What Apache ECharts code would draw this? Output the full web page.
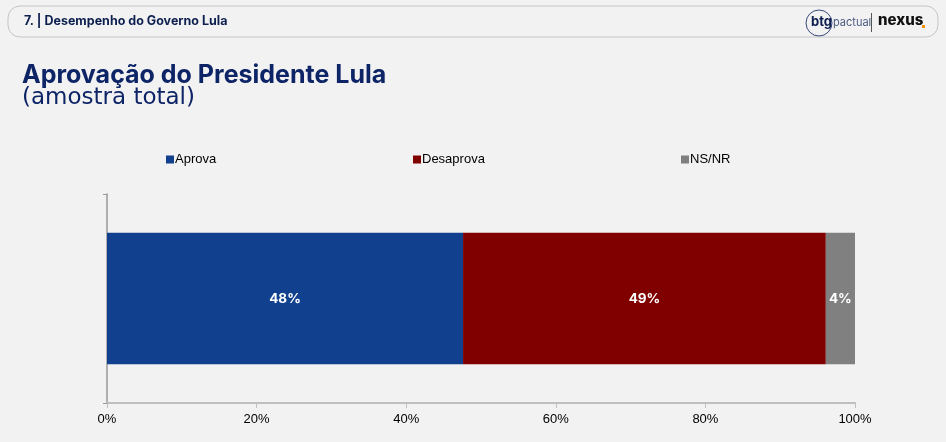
<!DOCTYPE html>
<html>
<head>
<meta charset="utf-8">
<script src="https://cdn.jsdelivr.net/npm/echarts@6/dist/echarts.min.js"></script>
<style>
html, body { margin: 0; padding: 0; background: #f2f2f2; }
#chart { width: 946px; height: 442px; }
</style>
</head>
<body>
<div id="chart"></div>
<script>
var categories = ['Lula'];
var seriesNames = ['Aprova', 'Desaprova', 'NS/NR'];
var aprova = [47.6];
var desaprova = [48.5];
var nsnr = [3.9];
var xTicks = [0, 20, 40, 60, 80, 100];

var colors = ['#11408e', '#800000', '#808080'];
var legendLeft = [161, 408, 676];

var setBar = function() {
	var values = [aprova, desaprova, nsnr];
	var series = seriesNames.map(function(name, i) {
		return {
			name: name,
			type: 'bar',
			stack: 'total',
			barWidth: '63%',
			itemStyle: { color: colors[i] },
			label: {
				show: true,
				position: 'inside',
				color: '#ffffff',
				fontFamily: 'Inter',
				fontWeight: 'bold',
				fontSize: 13.5,
				formatter: function(p) { return Math.round(p.value) + '%'; }
			},
			data: values[i]
		};
	});

	// uma legenda por item para acertar as posições
	var legends = seriesNames.map(function(name, i) {
		return {
			data: [name],
			top: 148,
			left: legendLeft[i],
			itemWidth: 8,
			itemHeight: 8,
			icon: 'rect',
			textStyle: { fontFamily: 'Liberation Sans', fontSize: 13, color: '#000', padding: [0, 0, 0, -4] }
		};
	});

	var option = {
		backgroundColor: '#f2f2f2',
		animation: false,
		graphic: [
			{ type: 'rect', shape: { x: 8, y: 6, width: 930, height: 31, r: 12 },
			  style: { fill: 'none', stroke: '#c4c4c4', lineWidth: 1 } },
			{ type: 'text', left: 24, top: 15,
			  style: { text: '7. | Desempenho do Governo Lula', fill: '#0d1f4f', font: 'bold 12.5px Inter' } },
			{ type: 'circle', shape: { cx: 819, cy: 23, r: 13 },
			  style: { fill: 'none', stroke: '#3a4a7a', lineWidth: 1 } },
			{ type: 'text', left: 811, top: 16,
			  style: { text: 'btg', fill: '#0d1f4f', font: 'bold 13px Inter' } },
			{ type: 'text', left: 833, top: 17,
			  style: { text: 'pactual', fill: '#4a5a80', font: '11px Inter' } },
			{ type: 'rect', shape: { x: 871, y: 13, width: 1, height: 19 },
			  style: { fill: '#555' } },
			{ type: 'text', left: 878, top: 13,
			  style: { text: 'nexus', fill: '#111', font: '800 15px Inter' } },
			{ type: 'rect', shape: { x: 922, y: 25, width: 3, height: 3 },
			  style: { fill: '#f39200' } },
			{ type: 'text', left: 22, top: 63,
			  style: { text: 'Aprovação do Presidente Lula', fill: '#0d2466', font: 'bold 25px Inter' } },
			{ type: 'text', left: 22, top: 87,
			  style: { text: '(amostra total)', fill: '#0d2466', font: '23px "DejaVu Sans"' } }
		],
		legend: legends,
		grid: { left: 107, right: 91, top: 194, bottom: 39 },
		xAxis: {
			type: 'value',
			min: xTicks[0],
			max: xTicks[xTicks.length - 1],
			interval: 20,
			axisLine: { show: true, lineStyle: { color: '#bfbfbf', width: 2 } },
			axisTick: { show: true, length: 5, lineStyle: { color: '#bfbfbf' } },
			splitLine: { show: false },
			axisLabel: {
				color: '#000', fontFamily: 'Liberation Sans', fontSize: 13, margin: 10,
				formatter: '{value}%'
			}
		},
		yAxis: {
			type: 'category',
			data: categories,
			axisLine: { show: true, lineStyle: { color: '#999', width: 1.5 } },
			axisTick: { show: true, length: 4, lineStyle: { color: '#999' } },
			axisLabel: { show: false }
		},
		series: series
	};
	var myChart = echarts.init(document.getElementById('chart'));
	myChart.setOption(option);
};
setBar();
</script>
</body>
</html>
